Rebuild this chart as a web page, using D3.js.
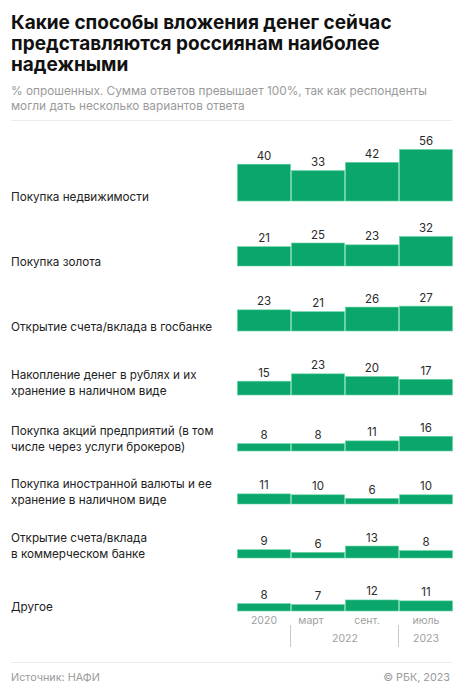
<!DOCTYPE html>
<html>
<head>
<meta charset="utf-8">
<script src="https://cdn.jsdelivr.net/npm/d3@7"></script>
<style>
  html, body { margin: 0; padding: 0; background: #fff; }
  svg { display: block; }
  text { font-family: Inter, "Noto Sans", sans-serif; }
</style>
</head>
<body>
<svg id="chart" width="475" height="688"></svg>
<script>
// ---- data ----
const title = ["Какие способы вложения денег сейчас", "представляются россиянам наиболее", "надежными"];
const subtitle = ["% опрошенных. Сумма ответов превышает 100%, так как респонденты", "могли дать несколько вариантов ответа"];
const periods = ["2020", "март 2022", "сент. 2022", "июль 2023"];
const categories = [
  ["Покупка недвижимости"],
  ["Покупка золота"],
  ["Открытие счета/вклада в госбанке"],
  ["Накопление денег в рублях и их", "хранение в наличном виде"],
  ["Покупка акций предприятий (в том", "числе через услуги брокеров)"],
  ["Покупка иностранной валюты и ее", "хранение в наличном виде"],
  ["Открытие счета/вклада", "в коммерческом банке"],
  ["Другое"]
];
const values = [
  [40, 33, 42, 56],
  [21, 25, 23, 32],
  [23, 21, 26, 27],
  [15, 23, 20, 17],
  [8, 8, 11, 16],
  [11, 10, 6, 10],
  [9, 6, 13, 8],
  [8, 7, 12, 11]
];
const tickTop = ["2020", "март", "сент.", "июль"];
const tickYears = ["2022", "2023"];
const source = "Источник: НАФИ";
const copyright = "© РБК, 2023";

// ---- layout ----
const W = 475, left = 11, right = 452;
const rowBaselines = [201, 266, 331, 395, 451, 504, 558, 611];
const green = "#0aa66b";

const svg = d3.select("#chart");

// title
svg.append("text").attr("x", left).attr("y", 28.5)
  .attr("font-size", 19).attr("font-weight", 700).attr("fill", "#111")
  .selectAll("tspan").data(title).join("tspan")
  .attr("x", left).attr("dy", (d, i) => i ? 21 : 0).text(d => d);

// subtitle
svg.append("text").attr("x", left).attr("y", 95)
  .attr("font-size", 11.8).attr("fill", "#9a9a9a")
  .selectAll("tspan").data(subtitle).join("tspan")
  .attr("x", left).attr("dy", (d, i) => i ? 14.6 : 0).text(d => d);

svg.append("line").attr("x1", left).attr("x2", right).attr("y1", 120.5).attr("y2", 120.5)
  .attr("stroke", "#ececec").attr("stroke-width", 1);

// scales
const x = d3.scaleBand().domain(periods).range([237, 453]).paddingInner(0);
const h = d3.scaleLinear().domain([0, 56]).range([0, 51.5]);

const rows = svg.selectAll("g.row").data(values).join("g").attr("class", "row")
  .attr("transform", (d, i) => `translate(0,${rowBaselines[i]})`);

rows.selectAll("rect").data(d => d.map((v, j) => ({ v, p: periods[j] }))).join("rect")
  .attr("x", d => x(d.p) + 0.5)
  .attr("width", x.bandwidth() - 1)
  .attr("y", d => -h(d.v))
  .attr("height", d => h(d.v))
  .attr("fill", green)
  .attr("stroke", "#5fd39e").attr("stroke-width", 0.6);

rows.selectAll("text.val").data(d => d.map((v, j) => ({ v, p: periods[j] }))).join("text")
  .attr("class", "val")
  .attr("x", d => x(d.p) + x.bandwidth() / 2)
  .attr("y", d => -h(d.v) - 4.5)
  .attr("text-anchor", "middle").attr("font-size", 11.5).attr("fill", "#2a2a2a")
  .text(d => d.v);

// category labels (last line sits on the bar baseline)
rows.append("text").attr("font-size", 11.7).attr("fill", "#222")
  .each(function (d, i) {
    const lines = categories[i];
    d3.select(this).selectAll("tspan").data(lines).join("tspan")
      .attr("x", left)
      .attr("y", (l, k) => -(lines.length - 1 - k) * 16 - 0.5)
      .text(l => l);
  });

// bottom axis
const axisY = 624;
const axisG = svg.append("g").attr("font-size", 10.5).attr("fill", "#a0a0a0");
const offsets = [0, -7, -5, 0];
axisG.selectAll("text.top").data(tickTop).join("text").attr("class", "top")
  .attr("x", (d, i) => x(periods[i]) + x.bandwidth() / 2 + offsets[i])
  .attr("y", axisY).attr("text-anchor", "middle").text(d => d);
axisG.append("text").attr("x", x(periods[2])).attr("y", axisY + 17.5)
  .attr("text-anchor", "middle").text(tickYears[0]);
axisG.append("text").attr("x", x(periods[3]) + x.bandwidth() / 2).attr("y", axisY + 17.5)
  .attr("text-anchor", "middle").text(tickYears[1]);
[periods[1], periods[3]].forEach(p => {
  svg.append("line").attr("x1", x(p) - 0.5).attr("x2", x(p) - 0.5)
    .attr("y1", 625).attr("y2", 647).attr("stroke", "#c8c8c8").attr("stroke-width", 1);
});

// footer
svg.append("line").attr("x1", left).attr("x2", right).attr("y1", 662.5).attr("y2", 662.5)
  .attr("stroke", "#ececec").attr("stroke-width", 1);
svg.append("text").attr("x", left).attr("y", 680.5).attr("font-size", 10.8).attr("fill", "#9a9a9a").text(source);
svg.append("text").attr("x", 450).attr("y", 680.5).attr("text-anchor", "end").attr("font-size", 10.8).attr("fill", "#9a9a9a").text(copyright);
</script>
</body>
</html>
